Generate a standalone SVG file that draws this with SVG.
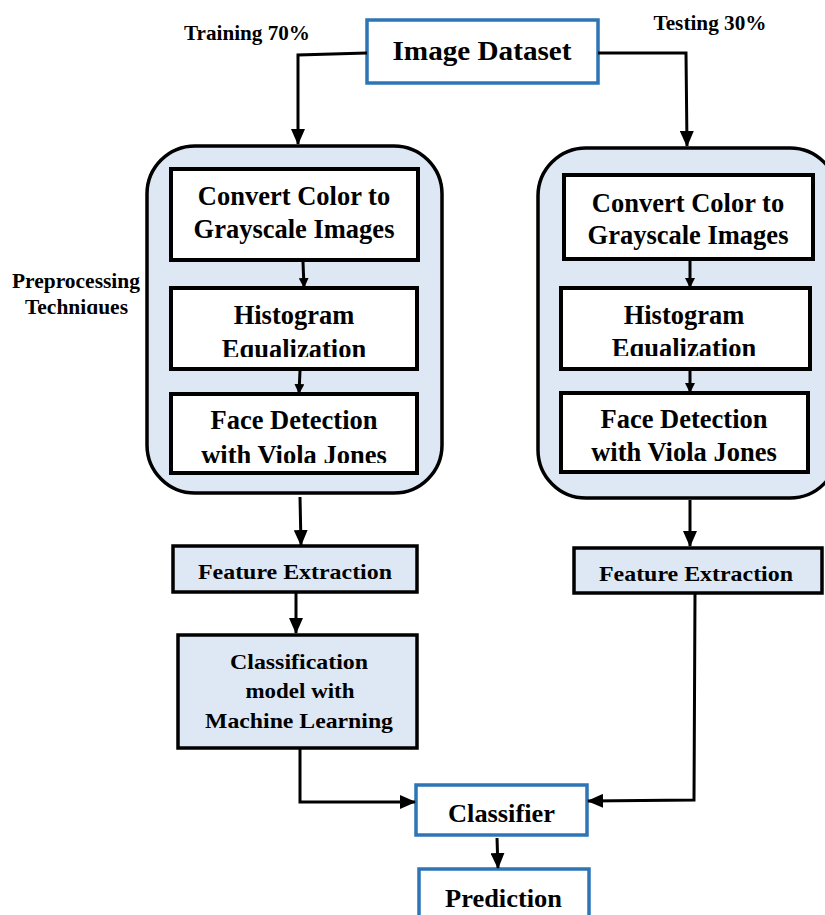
<svg xmlns="http://www.w3.org/2000/svg" width="825" height="915" viewBox="0 0 825 915">
<defs>
<marker id="ah" markerWidth="10" markerHeight="10" refX="9" refY="5" orient="auto" markerUnits="userSpaceOnUse"><path d="M0,0 L10,5 L0,10 Z" fill="#000"/></marker>
<marker id="ahb" markerWidth="16" markerHeight="14" refX="15" refY="7" orient="auto" markerUnits="userSpaceOnUse"><path d="M0,0 L16,7 L0,14 Z" fill="#000"/></marker>
<clipPath id="cl1"><rect x="170" y="287" width="247" height="70"/></clipPath>
<clipPath id="cl2"><rect x="170" y="393" width="247" height="70"/></clipPath>
<clipPath id="cr1"><rect x="560" y="287" width="250" height="69"/></clipPath>
<clipPath id="cr2"><rect x="561" y="392" width="247" height="69"/></clipPath>
<clipPath id="cp"><rect x="0" y="260" width="150" height="54"/></clipPath>
</defs>
<style>
text{font-family:"Liberation Serif","Times New Roman",serif;font-weight:bold;fill:#000;text-anchor:middle}
.blue{fill:#fff;stroke:#2e75b6;stroke-width:3.5}
.cont{fill:#dde8f4;stroke:#000;stroke-width:3.5}
.inner{fill:#fff;stroke:#000;stroke-width:4}
.lb{fill:#dde8f4;stroke:#000;stroke-width:3.5}
.c{fill:none;stroke:#000;stroke-width:3}
.big{font-size:26.5px}
.mid{font-size:22px}
.lab{font-size:20px}
</style>
<g id="labels">
<text class="lab" x="247" y="40" textLength="126" lengthAdjust="spacingAndGlyphs">Training 70%</text>
<text class="lab" x="710" y="30" textLength="113" lengthAdjust="spacingAndGlyphs">Testing 30%</text>
<g clip-path="url(#cp)"><text class="lab" x="76" y="288" textLength="128" lengthAdjust="spacingAndGlyphs">Preprocessing</text><text class="lab" x="76.5" y="314" textLength="103" lengthAdjust="spacingAndGlyphs">Techniques</text></g>
</g>
<g id="image-dataset"><rect class="blue" x="367" y="20" width="231" height="63"/><text x="482" y="60" style="font-size:28px" textLength="179" lengthAdjust="spacingAndGlyphs">Image Dataset</text></g>
<g id="train-pre"><rect class="cont" x="147" y="146" width="295" height="347" rx="48"/></g>
<g id="test-pre"><rect class="cont" x="538" y="148" width="300" height="350" rx="48"/></g>
<g id="train-gray"><rect class="inner" x="171" y="169" width="247" height="91"/><text class="big" x="294" y="205">Convert Color to</text><text class="big" x="294" y="238">Grayscale Images</text></g>
<g id="train-hist"><rect class="inner" x="171" y="288" width="246" height="81"/><g clip-path="url(#cl1)"><text class="big" x="294" y="324">Histogram</text><text class="big" x="294" y="358">Equalization</text></g></g>
<g id="train-face"><rect class="inner" x="171" y="394" width="246" height="79"/><g clip-path="url(#cl2)"><text class="big" x="294" y="429">Face Detection</text><text class="big" x="294" y="464">with Viola Jones</text></g></g>
<g id="test-gray"><rect class="inner" x="564" y="175" width="249" height="84"/><text class="big" x="688" y="212">Convert Color to</text><text class="big" x="688" y="244">Grayscale Images</text></g>
<g id="test-hist"><rect class="inner" x="561" y="288" width="249" height="81"/><g clip-path="url(#cr1)"><text class="big" x="684" y="324">Histogram</text><text class="big" x="684" y="357">Equalization</text></g></g>
<g id="test-face"><rect class="inner" x="561" y="393" width="247" height="79"/><g clip-path="url(#cr2)"><text class="big" x="684" y="428">Face Detection</text><text class="big" x="684" y="461">with Viola Jones</text></g></g>
<g id="train-fe"><rect class="lb" x="173" y="546" width="244" height="46"/><text class="mid" x="295" y="579" textLength="194" lengthAdjust="spacingAndGlyphs">Feature Extraction</text></g>
<g id="test-fe"><rect class="lb" x="574" y="548" width="248" height="45"/><text class="mid" x="696" y="581" textLength="194" lengthAdjust="spacingAndGlyphs">Feature Extraction</text></g>
<g id="classification"><rect class="lb" x="178" y="635" width="239" height="113"/><text class="mid" x="299" y="669" textLength="138" lengthAdjust="spacingAndGlyphs">Classification</text><text class="mid" x="300" y="698" textLength="109" lengthAdjust="spacingAndGlyphs">model with</text><text class="mid" x="299" y="728" textLength="188" lengthAdjust="spacingAndGlyphs">Machine Learning</text></g>
<g id="classifier"><rect class="blue" x="416" y="785" width="171" height="50"/><text x="501.5" y="822" style="font-size:25px" textLength="107" lengthAdjust="spacingAndGlyphs">Classifier</text></g>
<g id="prediction"><rect class="blue" x="419" y="869" width="170" height="60"/><text x="503.5" y="907" style="font-size:25px" textLength="117" lengthAdjust="spacingAndGlyphs">Prediction</text></g>
<g id="connectors">
<path class="c" d="M367,53 L298,55 L298,144" marker-end="url(#ahb)"/>
<path class="c" d="M598,53 L686,53 L687,146" marker-end="url(#ahb)"/>
<path class="c" d="M303,262 L304,287" marker-end="url(#ah)"/>
<path class="c" d="M300,371 L299,393" marker-end="url(#ah)"/>
<path class="c" d="M690,261 L690,287" marker-end="url(#ah)"/>
<path class="c" d="M690,371 L690,392" marker-end="url(#ah)"/>
<path class="c" d="M300,497 L301,545" marker-end="url(#ahb)"/>
<path class="c" d="M690,500 L690,546" marker-end="url(#ahb)"/>
<path class="c" d="M296,593 L296,633" marker-end="url(#ahb)"/>
<path class="c" d="M300,748 L300,802 L415,802" marker-end="url(#ahb)"/>
<path class="c" d="M695,593 L694,800 L588,801" marker-end="url(#ahb)"/>
<path class="c" d="M497,838 L498,868" marker-end="url(#ahb)"/>
</g>
</svg>
